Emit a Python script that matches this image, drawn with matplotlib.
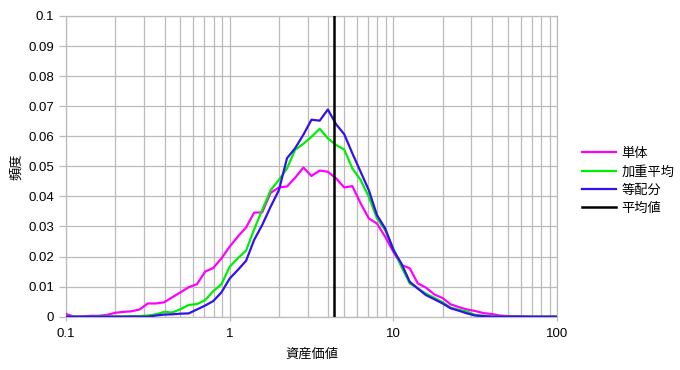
import matplotlib
matplotlib.use("Agg")
import matplotlib.pyplot as plt
from matplotlib.ticker import FixedLocator, NullFormatter, LogLocator

plt.rcParams['font.family'] = ['Liberation Sans', 'Noto Sans CJK JP', 'DejaVu Sans']

# bin centers (asset value), log-spaced
asset_value = [0.1, 0.112, 0.126, 0.141, 0.158, 0.178, 0.2, 0.224, 0.251, 0.282,
               0.316, 0.355, 0.398, 0.447, 0.501, 0.562, 0.631, 0.708, 0.794, 0.891,
               1.0, 1.12, 1.26, 1.41, 1.58, 1.78, 2.0, 2.24, 2.51, 2.82,
               3.16, 3.55, 3.98, 4.47, 5.01, 5.62, 6.31, 7.08, 7.94, 8.91,
               10.0, 11.2, 12.6, 14.1, 15.8, 17.8, 20.0, 22.4, 25.1, 28.2,
               31.6, 35.5, 39.8, 44.7, 50.1, 56.2, 63.1, 70.8, 79.4, 89.1, 100.0]

single = [0.0009, 0.0000, 0.0001, 0.0003, 0.0003, 0.0006, 0.0013, 0.0016, 0.0018, 0.0024,
          0.0044, 0.0044, 0.0048, 0.0065, 0.0081, 0.0098, 0.0108, 0.0150, 0.0162, 0.0194,
          0.0233, 0.0266, 0.0297, 0.0346, 0.0347, 0.0412, 0.0430, 0.0433, 0.0462, 0.0496,
          0.0468, 0.0486, 0.0482, 0.0460, 0.0430, 0.0434, 0.0377, 0.0327, 0.0310, 0.0266,
          0.0216, 0.0172, 0.0161, 0.0111, 0.0097, 0.0074, 0.0062, 0.0041, 0.0032, 0.0024,
          0.0019, 0.0012, 0.0009, 0.0004, 0.0002, 0.0002, 0.0001, 0.0, 0.0, 0.0, 0.0]

weighted = [0.0, 0.0, 0.0, 0.0, 0.0001, 0.0001, 0.0001, 0.0001, 0.0002, 0.0002,
            0.0004, 0.0008, 0.0016, 0.0014, 0.0025, 0.0039, 0.0042, 0.0055, 0.0085, 0.0108,
            0.0166, 0.0194, 0.0220, 0.0290, 0.0355, 0.0421, 0.0455, 0.0493, 0.0555, 0.0575,
            0.0598, 0.0625, 0.0593, 0.0571, 0.0556, 0.0493, 0.0455, 0.0399, 0.0327, 0.0288,
            0.0227, 0.0166, 0.0111, 0.0094, 0.0077, 0.0063, 0.0048, 0.0030, 0.0023, 0.0017,
            0.0006, 0.0003, 0.0001, 0.0, 0.0, 0.0, 0.0, 0.0, 0.0, 0.0, 0.0]

equal = [0.0, 0.0, 0.0, 0.0, 0.0, 0.0, 0.0, 0.0, 0.0, 0.0,
         0.0, 0.0004, 0.0007, 0.0008, 0.0010, 0.0011, 0.0024, 0.0037, 0.0052, 0.0081,
         0.0127, 0.0155, 0.0186, 0.0255, 0.0305, 0.0366, 0.0421, 0.0527, 0.0560, 0.0605,
         0.0655, 0.0652, 0.0689, 0.0640, 0.0607, 0.0543, 0.0482, 0.0421, 0.0338, 0.0294,
         0.0222, 0.0177, 0.0116, 0.0094, 0.0072, 0.0058, 0.0044, 0.0028, 0.0020, 0.0011,
         0.0004, 0.0002, 0.0, 0.0, 0.0, 0.0, 0.0, 0.0, 0.0, 0.0, 0.0]

mean_value = 4.32

series_names = ['単体', '加重平均', '等配分', '平均値']
x_ticks = [0.1, 1, 10, 100]
x_tick_labels = ['0.1', '1', '10', '100']
y_ticks = [0, 0.01, 0.02, 0.03, 0.04, 0.05, 0.06, 0.07, 0.08, 0.09, 0.1]
y_tick_labels = ['0', '0.01', '0.02', '0.03', '0.04', '0.05', '0.06', '0.07', '0.08', '0.09', '0.1']

fig = plt.figure(figsize=(6.8, 3.7), dpi=100)
ax = fig.add_axes([66/680, 1-316.7/370, (557-66)/680, (316.7-16)/370])

ax.plot(asset_value, single, color='#FF00FF', lw=1.6, label=series_names[0], zorder=3)
ax.plot(asset_value, weighted, color='#00EE00', lw=1.6, label=series_names[1], zorder=4)
ax.plot(asset_value, equal, color='#3311EE', lw=1.6, label=series_names[2], zorder=5)
ax.axvline(mean_value, color='black', lw=1.8, label=series_names[3], zorder=6)

ax.set_xscale('log')
ax.set_xlim(0.1, 100)
ax.set_ylim(0, 0.1)
ax.set_xticks(x_ticks)
ax.set_xticklabels(x_tick_labels)
ax.xaxis.set_minor_locator(LogLocator(base=10, subs=range(2, 10)))
ax.xaxis.set_minor_formatter(NullFormatter())
ax.set_yticks(y_ticks)
ax.set_yticklabels(y_tick_labels)

ax.grid(True, which='major', color='#BBBBBB', lw=0.9, zorder=0)
ax.grid(True, which='minor', axis='x', color='#BBBBBB', lw=0.9, zorder=0)
ax.set_axisbelow(True)
for s in ax.spines.values():
    s.set_color('#BBBBBB')
    s.set_linewidth(0.9)

ax.tick_params(axis='both', which='major', colors='#BBBBBB', labelcolor='black',
               labelsize=9.5, length=5, width=0.9)
ax.tick_params(axis='x', which='minor', length=0)
ax.tick_params(axis='x', which='major', length=3, pad=5)

ax.set_xlabel('資産価値', fontsize=9.5, labelpad=6)
ax.set_ylabel('頻度', fontsize=9.5, labelpad=4)

fig.legend(loc='upper left', bbox_to_anchor=(0.848, 0.615), frameon=False,
           fontsize=9.5, handlelength=2.6, handletextpad=0.4, labelspacing=0.45,
           borderaxespad=0)

fig.savefig('out.png', dpi=100)
